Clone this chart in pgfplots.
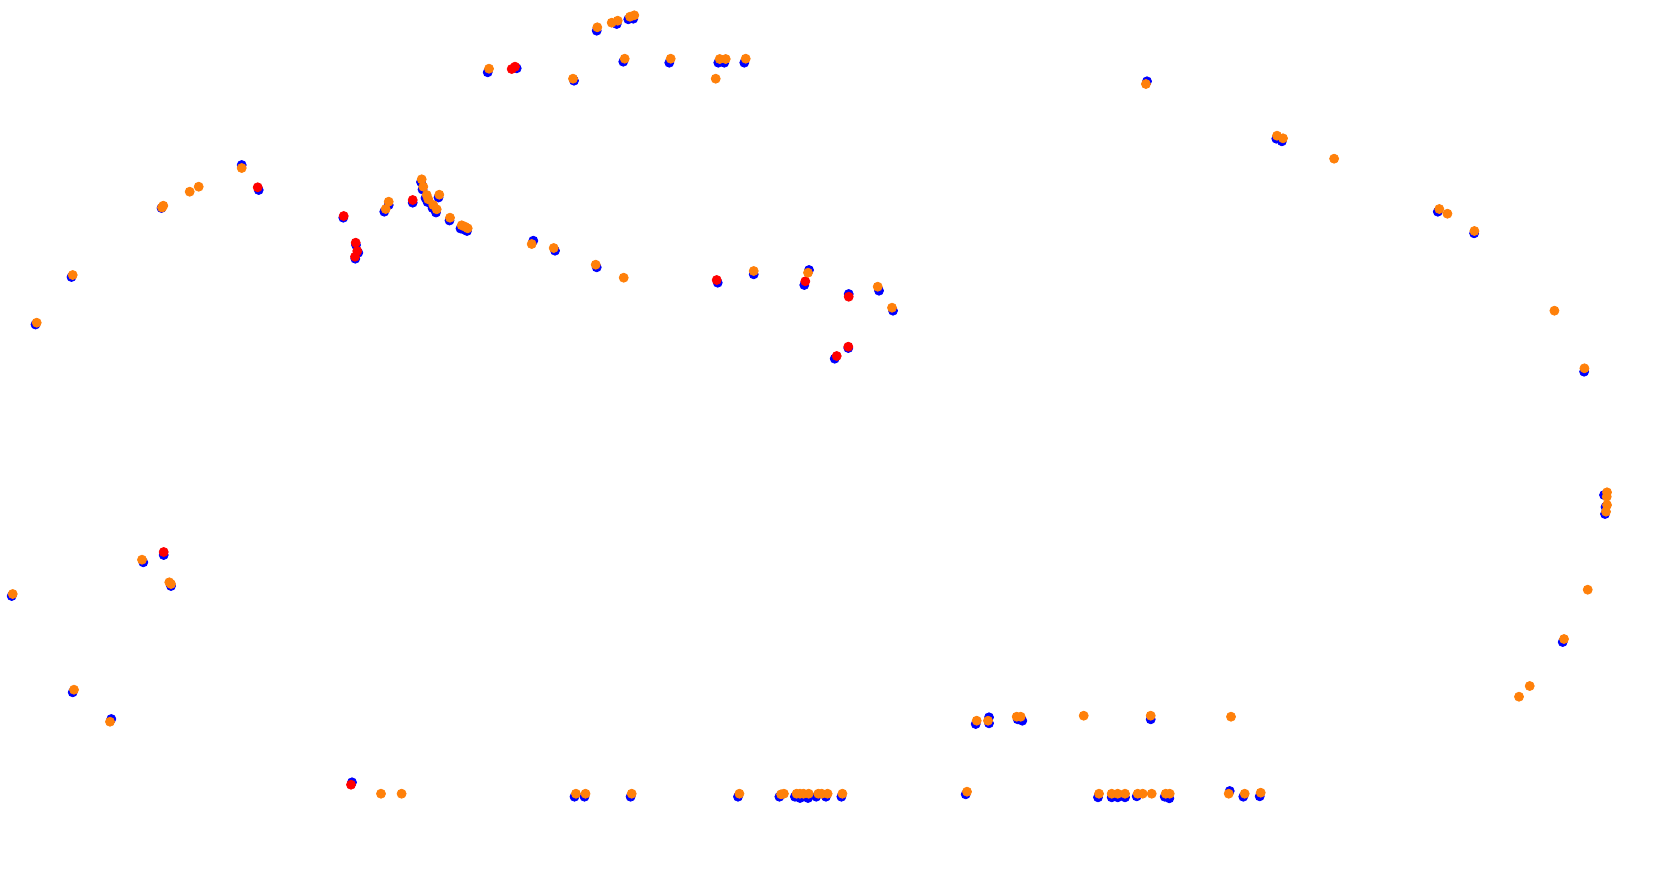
\documentclass[border=0pt]{standalone}
\usepackage{pgfplots}
\pgfplotsset{compat=1.18}
\definecolor{pblue}{RGB}{0,0,255}
\definecolor{pred}{RGB}{255,0,0}
\definecolor{porange}{RGB}{255,128,10}
\begin{document}
\begin{tikzpicture}
\begin{axis}[
  scale only axis, width=840pt, height=436.5pt,
  xmin=0, xmax=1680, ymin=0, ymax=873, y dir=reverse,
  hide axis, clip=false,
]
\path[draw=none] (rel axis cs:0,0) rectangle (rel axis cs:1,1);
\addplot[only marks, mark=*, mark size=2.25pt, color=pblue, mark options={draw=none, fill=pblue}] coordinates {
(35.5,324.5) (71.5,277) (161.5,208) (241.7,165) (258.7,190) (343.3,217.7) (358.3,252.7) (355.3,258.7) (356,245)
(384.3,211.7) (388.7,205) (412.7,202.7)
(421,182) (422.5,189.5) (425.5,198) (427.5,202) (432.5,208) (436,212.5) (438.5,197.5) (449.5,220.5) (460.5,228.5) (464,229.5) (467,231)
(487.7,72.3) (516.7,68.3) (574,80.7) (596.7,30.7) (616.7,24) (628.3,19.3) (633.3,18.7) (623.3,61.7) (669.3,62.7)
(718.3,62.7) (724.3,62.7) (744.3,62.7)
(533.3,240.7) (555,250.7) (596.7,267.3) (717.7,282.7) (753.7,274.3) (809,270) (804.3,285) (848.7,294) (879,290.7) (893,310.7)
(848.3,348) (834.7,358.7)
(1147,81.3) (1276.3,138.7) (1281.9,141.3) (1437.8,211.7) (1474.1,233.3) (1584.1,371.7) (1604,495) (1605.5,507) (1605,514) (1562.7,642)
(11.7,596) (143.3,562.3) (163.7,555) (171,586) (72.7,692.3) (111.3,719) (352,782.3)
(574.5,796.7) (584.5,796.7) (630.6,796.7) (738,796.7) (779.4,796.7) (794.9,796.7) (800,798) (808,798) (816.2,796.7) (825.9,796.7) (841.4,796.7)
(975.7,724) (989,723.3) (989,717.3) (1017.7,719.3) (1022.3,720.7) (1150.7,719.3)
(965.7,794.3) (1098,797.3) (1111.7,797.3) (1117.7,797.3) (1125,797.3) (1136.7,796.3) (1164.7,796.7) (1169.3,798.3) (1229.7,791) (1243.3,796.7) (1259.7,796.3)
};
\addplot[only marks, mark=*, mark size=2.25pt, color=pred, mark options={draw=none, fill=pred}] coordinates {
(257.7,187.3) (343.7,216) (355.7,242.7) (357.3,251) (355,256.7) (412.7,200) (511.7,69) (515,66.7)
(716.7,280) (805.3,281.3) (848.7,296.7) (848.3,346.7) (836.7,356) (163.7,552) (351,784.7)
};
\addplot[only marks, mark=*, mark size=2.25pt, color=porange, mark options={draw=none, fill=porange}] coordinates {
(36.7,322.7) (72.7,275) (163.3,205.7) (162,207.5) (189.7,191.7) (198.7,186.7) (241.7,168)
(388.7,201.7) (385.7,209) (421.7,179.3) (423.3,186.7) (426.7,195) (428.3,199.3) (433.3,205) (436.7,209.3) (439.3,194.7)
(450,217.7) (461.7,225.3) (465,226.7) (467.7,228.3)
(489,68.7) (573,78.7) (597.3,27.3) (611.7,22.7) (617.7,20.7) (630,16.7) (634.3,15.3) (624.7,58.7) (670.7,58.7)
(719.7,59) (725.7,59) (745.7,58.7) (715.7,78.7)
(531.7,244) (553.7,248) (595.7,264.7) (623.7,277.7) (753.7,271) (808,272.7) (877.7,286.7) (892,307.7)
(1145.9,84) (1277,135.7) (1283,138.3) (1334.1,158.7) (1439.3,209) (1447.4,213.7) (1474.4,231) (1554.4,310.7) (1584.4,368.3)
(1607,492.3) (1606.7,496.7) (1607,505) (1606,511.7) (1587.7,589.7) (1564,639) (1529.7,686) (1519,696.7)
(12.7,594) (142,559.7) (169.3,582.3) (171,584) (74,689.7) (110,721.7)
(381,793.7) (401.6,793.7) (575.9,793.7) (585.5,793.7) (631.7,793.7) (739.4,793.7) (781.1,794.3) (783.9,793.7)
(796.6,793.7) (800,793.7) (803.5,793.7) (808.7,793.7) (818.3,793.7) (821.7,793.7) (827.6,793.7) (842.4,793.7)
(976.7,720.7) (988,720.7) (1016.7,716.7) (1020.7,716.7) (1083.7,715.7) (1150.7,715.7) (1231,716.7)
(967,791.7) (1099,793.7) (1111.7,793.7) (1117.7,793.7) (1125,793.7) (1137.7,793.7) (1142.7,793.7) (1151.7,793.7)
(1165.7,793.7) (1169.7,793.7) (1228.7,793.7) (1244.7,793.7) (1260.7,792.7)
};
\end{axis}
\end{tikzpicture}
\end{document}
